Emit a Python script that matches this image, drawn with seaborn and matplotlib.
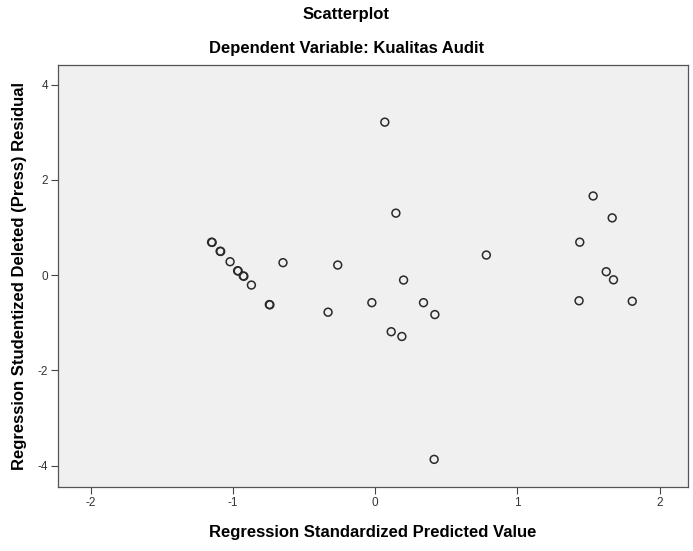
import matplotlib
matplotlib.use("Agg")
import matplotlib.pyplot as plt
import seaborn as sns
import pandas as pd

# Regression standardized predicted values
pred = [0.068, 0.146, 0.782, -0.263, 0.200, -0.023, 0.340, -0.331, 0.420, 0.113, 0.188,
        -1.150, -1.146, -1.090, -1.086, -1.020, -0.967, -0.963, -0.927, -0.923, -0.870,
        -0.648, -0.744, -0.740,
        1.533, 1.667, 1.439, 1.625, 1.676, 1.434, 1.808, 0.415]
# Studentized deleted (press) residuals
resid = [3.21, 1.30, 0.42, 0.21, -0.105, -0.58, -0.58, -0.78, -0.83, -1.19, -1.29,
         0.69, 0.685, 0.50, 0.495, 0.28, 0.09, 0.085, -0.02, -0.025, -0.21,
         0.26, -0.62, -0.625,
         1.66, 1.20, 0.69, 0.07, -0.10, -0.54, -0.55, -3.87]

xticks = [-2, -1, 0, 1, 2]
yticks = [-4, -2, 0, 2, 4]

df = pd.DataFrame({"pred": pred, "resid": resid})

sns.set_style("white")
plt.rcParams['font.family'] = ['Liberation Sans', 'DejaVu Sans']
plt.rcParams['text.color'] = 'black'
plt.rcParams['axes.labelcolor'] = 'black'

fig = plt.figure(figsize=(6.93, 5.51), dpi=100)
ax = fig.add_axes([58/693, 64/551, 630/693, 422/551])
ax.set_facecolor("#F0F0F0")

sns.scatterplot(data=df, x="pred", y="resid", ax=ax, marker="o", s=32,
                facecolors="none", edgecolor="#2a2a2a", linewidth=1.1, legend=False)

ax.set_xlim(-2.23, 2.20)
ax.set_ylim(-4.45, 4.41)
ax.set_xticks(xticks)
ax.set_yticks(yticks)
ax.set_xticklabels([str(t) for t in xticks])
ax.set_yticklabels([str(t) for t in yticks])
ax.tick_params(axis="both", direction="out", length=5, width=0.8, color="#444444",
               labelsize=8.5, labelcolor="#333333", bottom=True, left=True, pad=2)
for sp in ax.spines.values():
    sp.set_color("#555555")
    sp.set_linewidth(0.9)

ax.set_xlabel("Regression Standardized Predicted Value", fontsize=12, fontweight="bold",
              labelpad=12, color="black")
ax.set_ylabel("Regression Studentized Deleted (Press) Residual", fontsize=12,
              fontweight="bold", labelpad=8, color="black")

fig.text(0.5, 1 - 15/551, "Scatterplot", ha="center", va="center", fontsize=12,
         fontweight="bold", color="black")
fig.text(0.5, 1 - 48/551, "Dependent Variable: Kualitas Audit", ha="center",
         va="center", fontsize=12, fontweight="bold", color="black")

fig.savefig("out.png", dpi=100)
